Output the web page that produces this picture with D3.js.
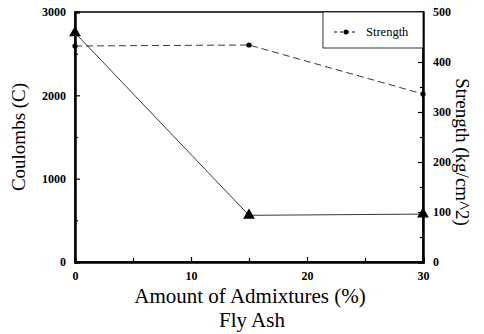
<!DOCTYPE html>
<html>
<head>
<meta charset="utf-8">
<script src="https://cdn.jsdelivr.net/npm/d3@7"></script>
<style>
  body { margin: 0; background: #fff; }
  svg text { font-family: "Liberation Serif", "Times New Roman", serif; }
</style>
</head>
<body>
<div id="chart"></div>
<script>
// data
const admixture = [0, 15, 30];
const coulombs = [2750, 560, 575];
const strength = [432, 434, 336];
const xTicks = [0, 10, 20, 30];
const leftTicks = [0, 1000, 2000, 3000];
const rightTicks = [0, 100, 200, 300, 400, 500];

const totalWidth = 484, totalHeight = 334;
const margin = {top: 12, right: 61, bottom: 72, left: 75};
const width = totalWidth - margin.left - margin.right;
const height = totalHeight - margin.top - margin.bottom;

const svg = d3.select("#chart").append("svg")
    .attr("width", totalWidth)
    .attr("height", totalHeight)
  .append("g")
    .attr("transform", `translate(${margin.left},${margin.top})`);

const x = d3.scaleLinear().domain([0, 30]).range([0, width]);
const yL = d3.scaleLinear().domain([0, 3000]).range([height, 0]);
const yR = d3.scaleLinear().domain([0, 500]).range([height, 0]);

// frame
svg.append("rect")
  .attr("width", width).attr("height", height)
  .attr("fill", "none").attr("stroke", "#000").attr("stroke-width", 1.5);

// axes, ticks pointing inward
svg.append("g")
  .attr("transform", `translate(0,${height})`)
  .call(d3.axisBottom(x).tickValues(xTicks).tickSize(-5).tickPadding(9).tickFormat(d3.format("d")));
svg.append("g")
  .attr("transform", `translate(0,${height})`)
  .call(d3.axisBottom(x).tickValues([5, 15, 25]).tickSize(-4).tickFormat(""));

svg.append("g")
  .call(d3.axisLeft(yL).tickValues(leftTicks).tickSize(-5).tickPadding(9).tickFormat(d3.format("d")));
svg.append("g")
  .call(d3.axisLeft(yL).tickValues([500, 1500, 2500]).tickSize(-3).tickFormat(""));

svg.append("g")
  .attr("transform", `translate(${width},0)`)
  .call(d3.axisRight(yR).tickValues(rightTicks).tickSize(-5).tickPadding(10).tickFormat(d3.format("d")));
svg.append("g")
  .attr("transform", `translate(${width},0)`)
  .call(d3.axisRight(yR).tickValues([50, 150, 250, 350, 450]).tickSize(-3).tickFormat(""));

svg.selectAll("g").attr("font-family", null).attr("font-size", null);
svg.selectAll(".domain").attr("stroke-width", 2);
svg.selectAll(".tick line").attr("stroke-width", 1.2);
svg.selectAll(".tick text")
  .style("font-size", "12px")
  .style("font-weight", "bold");

// axis titles
svg.append("text")
  .attr("transform", `translate(${25 - margin.left},${height / 2}) rotate(-90)`)
  .attr("text-anchor", "middle")
  .style("font-size", "19px")
  .text("Coulombs (C)");

svg.append("text")
  .attr("transform", `translate(${width + 33},${height / 2 + 15}) rotate(90)`)
  .attr("text-anchor", "middle")
  .style("font-size", "19px")
  .text("Strength (kg/cm^2)");

svg.append("text")
  .attr("x", width / 2 + 1).attr("y", height + 41)
  .attr("text-anchor", "middle")
  .style("font-size", "21px")
  .text("Amount of Admixtures (%)");

svg.append("text")
  .attr("x", width / 2 + 3).attr("y", height + 65)
  .attr("text-anchor", "middle")
  .style("font-size", "21px")
  .text("Fly Ash");

// coulombs series: solid thin line with triangles
const lineL = d3.line().x((d, i) => x(admixture[i])).y(d => yL(d));
svg.append("path")
  .datum(coulombs)
  .attr("d", lineL)
  .attr("fill", "none").attr("stroke", "#222").attr("stroke-width", 0.9);

svg.selectAll(".tri").data(coulombs).enter()
  .append("path")
  .attr("class", "tri")
  .attr("transform", (d, i) => `translate(${x(admixture[i])},${yL(d)})`)
  .attr("d", d3.symbol().type(d3.symbolTriangle).size(60))
  .attr("fill", "#000");

// strength series: dashed line with dots
const lineR = d3.line().x((d, i) => x(admixture[i])).y(d => yR(d));
svg.append("path")
  .datum(strength)
  .attr("d", lineR)
  .attr("fill", "none").attr("stroke", "#222").attr("stroke-width", 0.9)
  .attr("stroke-dasharray", "7,4");

svg.selectAll(".dot").data(strength).enter()
  .append("circle")
  .attr("class", "dot")
  .attr("cx", (d, i) => x(admixture[i]))
  .attr("cy", d => yR(d))
  .attr("r", 2.6)
  .attr("fill", "#000");

// legend
const legend = svg.append("g").attr("transform", `translate(${width - 100},0)`);
legend.append("rect")
  .attr("width", 100).attr("height", 36)
  .attr("fill", "#fff").attr("stroke", "#000").attr("stroke-width", 0.8);
legend.append("line")
  .attr("x1", 11).attr("x2", 35).attr("y1", 20).attr("y2", 20)
  .attr("stroke", "#000").attr("stroke-dasharray", "3,3");
legend.append("circle").attr("cx", 23).attr("cy", 20).attr("r", 2.5).attr("fill", "#000");
legend.append("text")
  .attr("x", 43).attr("y", 24)
  .style("font-size", "12.5px")
  .text("Strength");
</script>
</body>
</html>
